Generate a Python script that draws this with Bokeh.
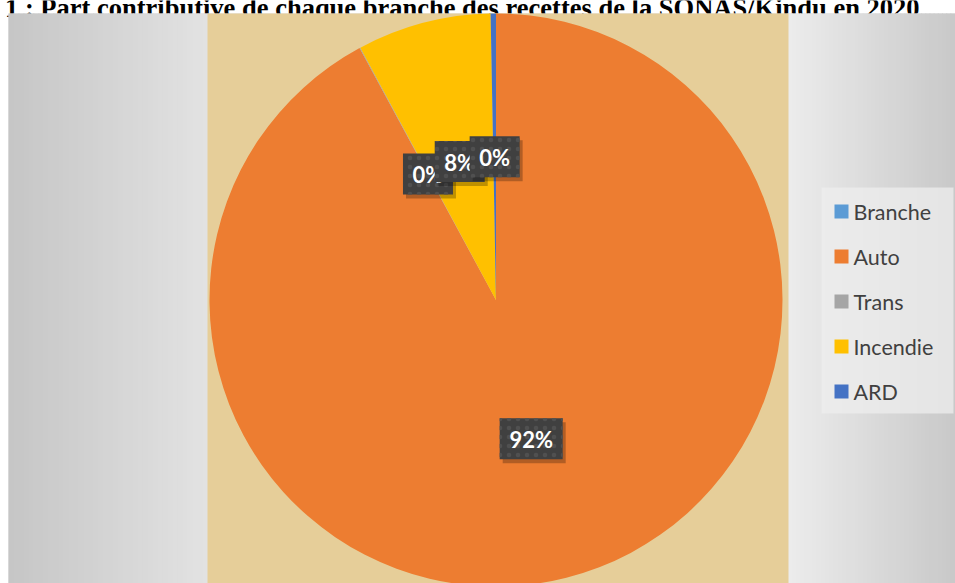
import math
from bokeh.plotting import figure
from bokeh.models import Range1d, ColumnDataSource
from bokeh.core.properties import value
from bokeh.embed import file_html
from bokeh.resources import INLINE

# ---------------- data ----------------
title_text = "1 : Part contributive de chaque branche des recettes de la SONAS/Kindu en 2020"
categories = ["Branche", "Auto", "Trans", "Incendie", "ARD"]
shares = [0.0, 92.1, 0.05, 7.55, 0.3]          # percent of receipts
colors = ["#5B9BD5", "#ED7D31", "#A5A5A5", "#FFC000", "#4472C4"]

# ---------------- layout (page pixels) ----------------
W, H = 955, 583
def Y(py):
    return H - py

p = figure(width=W, height=H, x_range=Range1d(0, W), y_range=Range1d(0, H),
           output_backend="svg", toolbar_location=None, min_border=0)
p.axis.visible = False
p.grid.visible = False
p.outline_line_color = None
p.background_fill_color = "white"
p.border_fill_color = "white"

# title (cut at the top, as in the reference)
p.text(x=[919], y=[Y(7.5)], text=[title_text], text_align="right", text_baseline="alphabetic",
       text_font=value("Liberation Serif"), text_font_style="bold", text_font_size="26.5px",
       text_color="black")

# chart area background: grey gradients on the sides, parchment in the middle
top, bottom = 13, 583
pl, pr = 207, 788
def grey(v):
    v = int(round(v))
    return "#%02x%02x%02x" % (v, v, v)

p.quad(left=[8], right=[W], top=[Y(top)], bottom=[Y(bottom)],
       fill_color=grey(214), line_color=None)
n = 40
lx = [8 + (pl - 8) * i / n for i in range(n + 1)]
p.quad(left=lx[:-1], right=[v + 1.0 for v in lx[1:]], top=[Y(top)] * n, bottom=[Y(bottom)] * n,
       fill_color=[grey(198 + (226 - 198) * i / (n - 1)) for i in range(n)], line_color=None)
rx = [pr + (W - pr) * i / n for i in range(n + 1)]
p.quad(left=[v - 1.0 for v in rx[:-1]], right=rx[1:], top=[Y(top)] * n, bottom=[Y(bottom)] * n,
       fill_color=[grey(236 - (236 - 201) * i / (n - 1)) for i in range(n)], line_color=None)
p.quad(left=[pl], right=[pr], top=[Y(top)], bottom=[Y(bottom)],
       fill_color="#E6CE99", line_color=None)

# ---------------- pie ----------------
cx, cy, R = 495.5, 299.5, 286.5
total = sum(shares)
cum = 0.0
starts, ends, wcols, mids, labs = [], [], [], [], []
for cat, v, c in zip(categories, shares, colors):
    f = v / total
    if f > 0:
        starts.append(math.pi / 2 - 2 * math.pi * (cum + f))
        ends.append(math.pi / 2 - 2 * math.pi * cum)
        wcols.append(c)
        mids.append(2 * math.pi * (cum + f / 2))
        labs.append("%d%%" % int(math.floor(v + 0.5)))
    cum += f

src = ColumnDataSource(dict(x=[cx] * len(starts), y=[Y(cy)] * len(starts),
                            s=starts, e=ends, c=wcols))
p.wedge(x="x", y="y", radius=R, start_angle="s", end_angle="e", fill_color="c",
        line_color=None, source=src)

# data labels: dark boxes at half radius, along each slice's mid-angle
for th, lab in zip(mids, labs):
    lx_ = cx + 0.5 * R * math.sin(th)
    ly_ = Y(cy) + 0.5 * R * math.cos(th)
    bw = 24 + 13 * len(lab)
    bh = 41
    p.rect(x=[lx_ + 3], y=[ly_ - 4], width=bw, height=bh, fill_color="black",
           fill_alpha=0.25, line_color=None)
    p.rect(x=[lx_], y=[ly_], width=bw, height=bh, fill_color="#404040",
           hatch_pattern="dot", hatch_color="#505050", hatch_scale=9, hatch_weight=1,
           line_color=None)
    p.text(x=[lx_], y=[ly_ - 1], text=[lab], text_align="center", text_baseline="middle",
           text_font=value("Lato"), text_font_style="bold", text_font_size="22px",
           text_color="white")

# ---------------- legend ----------------
p.quad(left=[821], right=[953], top=[Y(187)], bottom=[Y(413)],
       fill_color="#eeeeee", fill_alpha=0.75, line_color=None)
rows = [Y(211 + 45 * i) for i in range(len(categories))]
p.rect(x=[841] * len(categories), y=rows, width=14, height=14, fill_color=colors,
       line_color=None)
p.text(x=[853] * len(categories), y=rows, text=categories, text_align="left",
       text_baseline="middle", text_font=value("Lato"), text_font_size="21.5px",
       text_color="#404040")

open("out.html", "w").write(file_html(p, INLINE))
